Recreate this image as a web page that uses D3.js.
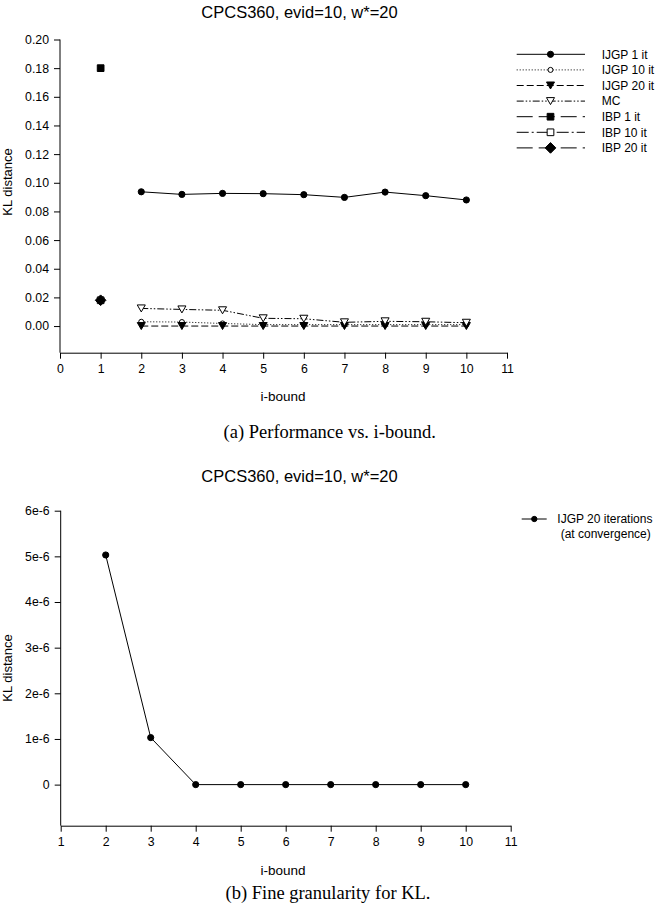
<!DOCTYPE html>
<html><head><meta charset="utf-8">
<script src="https://cdn.jsdelivr.net/npm/d3@7"></script>
<style>body{margin:0;background:#fff}svg{display:block}</style>
</head><body><svg id="c" width="656" height="914" font-family="Liberation Sans, Arial, sans-serif"></svg>
<script>
// ---- data ----
const ibound = [2,3,4,5,6,7,8,9,10];
const ijgp1 = [0.0937,0.0919,0.0926,0.0924,0.0917,0.0898,0.0935,0.0910,0.0880];
const ijgp10 = [0.0030,0.0028,0.0018,0.0010,0.0010,0.0010,0.0010,0.0010,0.0010];
const ijgp20 = [0,0,0,0,0,0,0,0,0];
const mc = [0.0123,0.0116,0.0110,0.0054,0.0051,0.0026,0.0033,0.0030,0.0023];
const ibpX = [1];
const ibp1 = [0.180];
const ibp10 = [0.018];
const ibp20 = [0.018];
const topYTicks = [0,0.02,0.04,0.06,0.08,0.10,0.12,0.14,0.16,0.18,0.20];
const topXTicks = [0,1,2,3,4,5,6,7,8,9,10,11];
const legendNames = ["IJGP 1 it","IJGP 10 it","IJGP 20 it","MC","IBP 1 it","IBP 10 it","IBP 20 it"];
const titleText = "CPCS360, evid=10, w*=20";

const fineX = [2,3,4,5,6,7,8,9,10];
const fineKL = [5.03e-6,1.03e-6,0,0,0,0,0,0,0];
const fineYTicks = [0,1e-6,2e-6,3e-6,4e-6,5e-6,6e-6];
const fineYLabels = ["0","1e-6","2e-6","3e-6","4e-6","5e-6","6e-6"];
const fineXTicks = [1,2,3,4,5,6,7,8,9,10,11];

const SANS = "Liberation Sans, Arial, sans-serif";
const SERIF = "Liberation Serif, Times New Roman, serif";
const svg = d3.select("#c");

const triDown = {draw(ctx,size){const s=Math.sqrt(size)*1.2; const h=s*0.87; ctx.moveTo(-s/2,-h/2); ctx.lineTo(s/2,-h/2); ctx.lineTo(0,h/2); ctx.closePath();}};
const diamondEq = {draw(ctx,size){const r=Math.sqrt(size)*0.72; ctx.moveTo(0,-r); ctx.lineTo(r,0); ctx.lineTo(0,r); ctx.lineTo(-r,0); ctx.closePath();}};

function drawMarker(g, x, y, m){
  return g.append("path").attr("transform",`translate(${x},${y})`)
    .attr("d", d3.symbol().type(m.type).size(m.size)())
    .attr("fill", m.fill ? "#000" : "#fff").attr("stroke","#000").attr("stroke-width",1);
}

const styles = [
  {dash:null, type:d3.symbolCircle, size:30, fill:true},
  {dash:"1,2", type:d3.symbolCircle, size:20, fill:false},
  {dash:"7,3", type:triDown, size:45, fill:true},
  {dash:"7,2,1.5,2,1.5,2", type:triDown, size:45, fill:false},
  {dash:"16,6", type:d3.symbolSquare, size:45, fill:true},
  {dash:"12,3,2,3", type:d3.symbolSquare, size:45, fill:false},
  {dash:"16,6", type:diamondEq, size:55, fill:true},
];

function styleAxis(a){
  a.selectAll("text").attr("font-size",12.3).attr("fill","#000").attr("font-family",SANS);
  a.selectAll("path,line").attr("stroke","#000");
}

// ---------- TOP CHART ----------
const x1 = d3.scaleLinear().domain([0,11]).range([60,507]);
const y1 = d3.scaleLinear().domain([-0.0186,0.20]).range([352.7,39.5]);

const gT = svg.append("g");
gT.append("text").attr("x",299.5).attr("y",18).attr("text-anchor","middle").attr("font-size",16.5).text(titleText);

const yAx1 = gT.append("g").attr("transform","translate(60,0)")
  .call(d3.axisLeft(y1).tickValues(topYTicks).tickFormat(d3.format(".2f")).tickSize(6).tickSizeOuter(0).tickPadding(5));
const xAx1 = gT.append("g").attr("transform","translate(0,352.7)")
  .call(d3.axisBottom(x1).tickValues(topXTicks).tickFormat(d3.format("d")).tickSize(6).tickSizeOuter(0).tickPadding(6));
styleAxis(yAx1); styleAxis(xAx1);
yAx1.select(".domain").attr("d",`M0,${y1(0.20)}V${352.7}`);

gT.append("text").attr("transform","translate(12,182) rotate(-90)").attr("text-anchor","middle").attr("font-size",13).text("KL distance");
gT.append("text").attr("x",283).attr("y",401).attr("text-anchor","middle").attr("font-size",13.5).text("i-bound");

const line1 = d3.line().x(d=>x1(d[0])).y(d=>y1(d[1]));
const topSeries = [
  {xs:ibound, ys:ijgp1, st:styles[0]},
  {xs:ibound, ys:ijgp10, st:styles[1]},
  {xs:ibound, ys:ijgp20, st:styles[2]},
  {xs:ibound, ys:mc, st:styles[3]},
  {xs:ibpX, ys:ibp1, st:styles[4]},
  {xs:ibpX, ys:ibp10, st:styles[5]},
  {xs:ibpX, ys:ibp20, st:styles[6]},
];
topSeries.forEach(s=>{
  const pts = s.xs.map((x,i)=>[x,s.ys[i]]);
  gT.append("path").attr("d",line1(pts)).attr("fill","none").attr("stroke","#000").attr("stroke-width",1)
    .attr("stroke-dasharray",s.st.dash);
});
topSeries.forEach(s=>{
  s.xs.forEach((x,i)=>drawMarker(gT,x1(x),y1(s.ys[i]),s.st));
});

// legend
const lg = gT.append("g");
legendNames.forEach((n,i)=>{
  const yy = 54.3 + i*15.6;
  lg.append("line").attr("x1",516.7).attr("x2",585).attr("y1",yy).attr("y2",yy)
    .attr("stroke","#000").attr("stroke-width",1).attr("stroke-dasharray",styles[i].dash);
  drawMarker(lg,550.5,yy,styles[i]);
  lg.append("text").attr("x",601.7).attr("y",yy+4.3).attr("font-size",12).text(n);
});

svg.append("text").attr("x",329.7).attr("y",437.5).attr("text-anchor","middle")
  .attr("font-family",SERIF).attr("font-size",18.5).text("(a) Performance vs. i-bound.");

// ---------- BOTTOM CHART ----------
const x2 = d3.scaleLinear().domain([1,11]).range([60.7,510.7]);
const y2 = d3.scaleLinear().domain([-0.9e-6,6e-6]).range([825.7,510.7]);
const gB = svg.append("g");
gB.append("text").attr("x",299.5).attr("y",482).attr("text-anchor","middle").attr("font-size",16.5).text(titleText);

const yAx2 = gB.append("g").attr("transform","translate(60.7,0)")
  .call(d3.axisLeft(y2).tickValues(fineYTicks).tickFormat((d,i)=>fineYLabels[i]).tickSize(6).tickSizeOuter(0).tickPadding(5));
const xAx2 = gB.append("g").attr("transform","translate(0,825.7)")
  .call(d3.axisBottom(x2).tickValues(fineXTicks).tickFormat(d3.format("d")).tickSize(6).tickSizeOuter(0).tickPadding(6));
styleAxis(yAx2); styleAxis(xAx2);
yAx2.select(".domain").attr("d",`M0,${y2(6e-6)}V${825.7}`);

gB.append("text").attr("transform","translate(12,668) rotate(-90)").attr("text-anchor","middle").attr("font-size",13).text("KL distance");
gB.append("text").attr("x",283).attr("y",875).attr("text-anchor","middle").attr("font-size",13.5).text("i-bound");

const line2 = d3.line().x(d=>x2(d[0])).y(d=>y2(d[1]));
gB.append("path").attr("d",line2(fineX.map((x,i)=>[x,fineKL[i]]))).attr("fill","none").attr("stroke","#000").attr("stroke-width",1);
fineX.forEach((x,i)=>drawMarker(gB,x2(x),y2(fineKL[i]),{type:d3.symbolCircle,size:30,fill:true}));

gB.append("line").attr("x1",521.7).attr("x2",546.7).attr("y1",519).attr("y2",519).attr("stroke","#000");
drawMarker(gB,534.3,519,{type:d3.symbolCircle,size:22,fill:true});
gB.append("text").attr("x",557.3).attr("y",523.3).attr("font-size",12).text("IJGP 20 iterations");
gB.append("text").attr("x",560.7).attr("y",538).attr("font-size",12).text("(at convergence)");

svg.append("text").attr("x",328).attr("y",898.5).attr("text-anchor","middle")
  .attr("font-family",SERIF).attr("font-size",18.5).text("(b) Fine granularity for KL.");
</script></body></html>
